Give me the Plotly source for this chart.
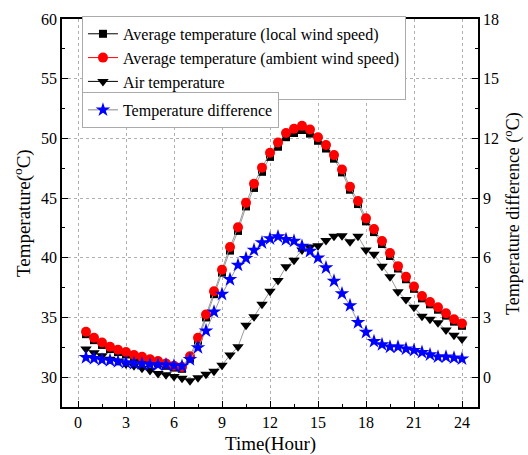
import plotly.graph_objects as go

hours = [0.5, 1.0, 1.5, 2.0, 2.5, 3.0, 3.5, 4.0, 4.5, 5.0, 5.5, 6.0,
         6.5, 7.0, 7.5, 8.0, 8.5, 9.0, 9.5, 10.0, 10.5, 11.0, 11.5, 12.0,
         12.5, 13.0, 13.5, 14.0, 14.5, 15.0, 15.5, 16.0, 16.5, 17.0, 17.5, 18.0,
         18.5, 19.0, 19.5, 20.0, 20.5, 21.0, 21.5, 22.0, 22.5, 23.0, 23.5, 24.0]

avg_local = [33.6, 33.1, 32.7, 32.35, 32.1, 31.9, 31.65, 31.5, 31.3, 31.15, 30.95, 30.8,
             30.7, 31.55, 33.05, 35.0, 36.95, 38.75, 40.6, 42.25, 44.3, 45.85, 47.2, 48.45,
             49.3, 50.1, 50.45, 50.7, 50.4, 49.8, 49.15, 48.3, 47.15, 45.7, 44.5, 43.05,
             42.15, 41.15, 40.15, 39.1, 38.2, 37.4, 36.6, 36.1, 35.65, 35.15, 34.65, 34.3]

avg_ambient = [33.8, 33.3, 32.9, 32.55, 32.3, 32.1, 31.85, 31.7, 31.5, 31.35, 31.15, 30.95,
               30.85, 31.75, 33.3, 35.25, 37.2, 39.0, 40.9, 42.55, 44.6, 46.2, 47.55, 48.8,
               49.65, 50.45, 50.8, 51.05, 50.75, 50.1, 49.45, 48.6, 47.4, 45.95, 44.75, 43.3,
               42.4, 41.4, 40.4, 39.3, 38.4, 37.6, 36.8, 36.3, 35.85, 35.35, 34.85, 34.5]

air_temp = [32.35, 32.05, 31.8, 31.5, 31.35, 31.1, 30.95, 30.75, 30.55, 30.3, 30.2, 30.05,
            29.9, 29.7, 29.95, 30.25, 30.5, 31.0, 31.85, 32.55, 34.35, 35.05, 36.1, 37.2,
            38.1, 39.25, 39.8, 40.65, 40.9, 41.0, 41.45, 41.8, 41.85, 41.35, 41.8, 40.65,
            40.3, 39.3, 38.4, 37.15, 36.5, 35.85, 35.1, 34.85, 34.55, 33.95, 33.5, 33.2]

temp_diff = [0.99, 0.94, 0.87, 0.84, 0.78, 0.73, 0.69, 0.67, 0.63, 0.62, 0.62, 0.58,
             0.55, 0.89, 1.49, 2.33, 3.28, 4.17, 4.91, 5.63, 5.97, 6.39, 6.76, 6.96,
             7.06, 6.92, 6.84, 6.58, 6.33, 6.0, 5.5, 4.83, 4.2, 3.6, 2.75, 2.26,
             1.8, 1.64, 1.52, 1.52, 1.42, 1.35, 1.25, 1.13, 1.02, 1.02, 0.97, 0.92]

x_ticks = [0, 3, 6, 9, 12, 15, 18, 21, 24]

series_names = ["Average temperature (local wind speed)",
                "Average temperature (ambient wind speed)",
                "Air temperature",
                "Temperature difference"]

FONT = "Liberation Serif, Times New Roman, serif"
LINE = "#9a9a9a"

styles = [
    dict(symbol="square", size=8, color="black", legline="black", axis="y", legend="legend"),
    dict(symbol="circle", size=10, color="red", legline="red", axis="y", legend="legend"),
    dict(symbol="triangle-down", size=10, color="black", legline="black", axis="y", legend="legend"),
    dict(symbol="star", size=11, color="blue", legline="#888888", axis="y2", legend="legend2"),
]
series_values = [avg_local, avg_ambient, air_temp, temp_diff]

fig = go.Figure()
for name, vals, st in zip(series_names, series_values, styles):
    fig.add_trace(go.Scatter(
        x=hours, y=vals, mode="lines+markers", name=name, showlegend=False,
        line=dict(color=LINE, width=1),
        marker=dict(symbol=st["symbol"], size=st["size"], color=st["color"]),
        yaxis=st["axis"]))
# legend entries (no data) carrying the legend line colours
for name, st in zip(series_names, styles):
    fig.add_trace(go.Scatter(
        x=[None], y=[None], mode="lines+markers", name=name,
        line=dict(color=st["legline"], width=1),
        marker=dict(symbol=st["symbol"], size=st["size"], color=st["color"]),
        yaxis=st["axis"], legend=st["legend"]))

grid = dict(showgrid=True, gridcolor="#b0b0b0", griddash="dot", gridwidth=1)

fig.update_layout(
    width=528, height=455,
    margin=dict(l=62, r=50, t=19, b=48),
    paper_bgcolor="white", plot_bgcolor="white",
    font=dict(family=FONT, size=16, color="black"),
    showlegend=True,
    xaxis=dict(range=[-1, 25], tickmode="array", tickvals=x_ticks,
               ticks="inside", ticklen=6, tickwidth=1, tickcolor="black",
               showline=True, linecolor="black", linewidth=1.5, mirror=True,
               minor=dict(ticks="inside", ticklen=3, dtick=1.5, tick0=0, showgrid=False, tickcolor="black"),
               zeroline=False, tickfont=dict(size=16), **grid),
    yaxis=dict(range=[27.5, 60], dtick=5, tick0=0,
               ticks="inside", ticklen=6, tickwidth=1, tickcolor="black",
               showline=True, linecolor="black", linewidth=1.5,
               minor=dict(ticks="inside", ticklen=3, dtick=2.5, tick0=0, showgrid=False, tickcolor="black"),
               zeroline=False, tickfont=dict(size=16), **grid),
    yaxis2=dict(range=[-1.5, 18], dtick=3, tick0=0, overlaying="y", side="right",
                ticks="inside", ticklen=6, tickwidth=1, tickcolor="black",
                showline=True, linecolor="black", linewidth=1.5,
                minor=dict(ticks="inside", ticklen=3, dtick=1.5, tick0=0, showgrid=False, tickcolor="black"),
                showgrid=False, zeroline=False, tickfont=dict(size=16)),
    legend=dict(x=0.048, y=1.008, xanchor="left", yanchor="top",
                bgcolor="white", bordercolor="#aaaaaa", borderwidth=1,
                font=dict(family=FONT, size=16), tracegroupgap=0),
    legend2=dict(x=0.048, y=0.812, xanchor="left", yanchor="top",
                 bgcolor="white", bordercolor="#aaaaaa", borderwidth=1,
                 font=dict(family=FONT, size=16)),
    annotations=[
        dict(text="Time(Hour)", xref="paper", yref="paper", x=0.5, y=-0.096,
             xanchor="center", yanchor="middle", showarrow=False,
             font=dict(family=FONT, size=19)),
        dict(text="Temperature(<sup>o</sup>C)", xref="paper", yref="paper", x=-0.096, y=0.5,
             xanchor="center", yanchor="middle", textangle=-90, showarrow=False,
             font=dict(family=FONT, size=19)),
        dict(text="Temperature difference (<sup>o</sup>C)", xref="paper", yref="paper", x=1.084, y=0.5,
             xanchor="center", yanchor="middle", textangle=-90, showarrow=False,
             font=dict(family=FONT, size=18)),
    ],
)

fig.write_html("out.html", config={"displayModeBar": False},
               post_script="document.body.style.margin='0';document.body.style.padding='0';")
